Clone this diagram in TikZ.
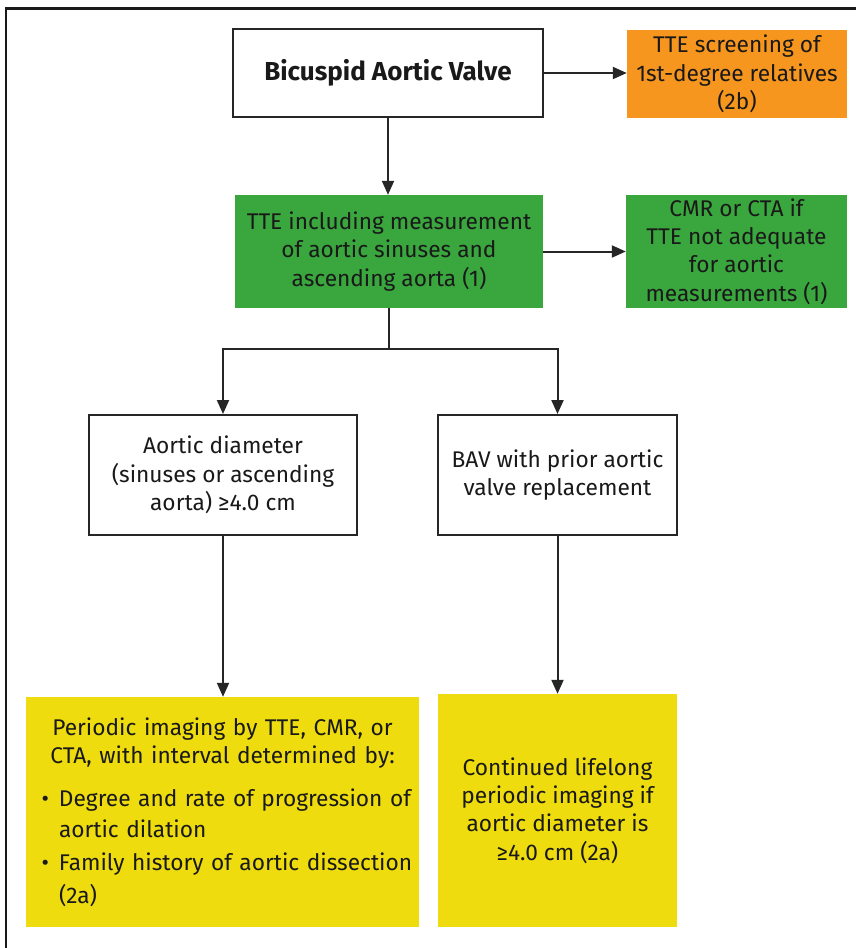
\documentclass[tikz,border=0pt]{standalone}
\usepackage{fontspec}
\setmainfont{Fira Sans}
\usetikzlibrary{arrows.meta}
\definecolor{borange}{HTML}{F7961E}
\definecolor{bgreen}{HTML}{3AA63E}
\definecolor{byellow}{HTML}{EEDC0F}
\begin{document}
\begin{tikzpicture}[x=1pt,y=-1pt,
  txt/.style={align=center, inner sep=0pt, font=\fontsize{22.7}{28.3}\selectfont, text=black!90},
  wbox/.style={txt, draw=black!85, line width=2pt, fill=white},
  obox/.style={txt, fill=borange},
  gbox/.style={txt, fill=bgreen},
  ybox/.style={txt, fill=byellow},
  arr/.style={line width=2pt, draw=black!85, -{Triangle[length=14pt,width=12pt]}},
  conn/.style={line width=2pt, draw=black!85}]
\useasboundingbox (0,0) rectangle (856,948);
\fill[white] (0,0) rectangle (856,948);
\draw[line width=2.5pt, black!90] (6,948) -- (6,8.5) -- (856,8.5);

\node[wbox, minimum width=310pt, minimum height=88pt] (bav) at (388,73)
  {\fontsize{26}{30}\selectfont\bfseries Bicuspid Aortic Valve};
\node[obox, minimum width=220pt, minimum height=88pt] (scr) at (737,74)
  {TTE screening of\\1st-degree relatives\\(2b)};
\node[gbox, minimum width=308pt, minimum height=113pt] (tte) at (389,251.5)
  {TTE including measurement\\of aortic sinuses and\\ascending aorta (1)};
\node[gbox, minimum width=221pt, minimum height=113pt] (cmr) at (736.5,251.5)
  {CMR or CTA if\\TTE not adequate\\for aortic\\measurements (1)};
\node[wbox, minimum width=268pt, minimum height=120pt] (diam) at (223,475)
  {Aortic diameter\\(sinuses or ascending\\aorta) ≥4.0 cm};
\node[wbox, minimum width=239pt, minimum height=120pt] (prior) at (557.5,475)
  {BAV with prior aortic\\valve replacement};
\node[ybox, minimum width=393pt, minimum height=230pt, text width=380pt, align=left] (per) at (222.5,812)
  {{\centering Periodic imaging by TTE, CMR, or\\CTA, with interval determined by:\par}
   \vspace{12pt}
   {\leftskip=26.5pt\baselineskip=31pt\noindent\llap{\textbullet\hspace{10pt}}Degree and rate of progression of\\aortic dilation\par}
   {\leftskip=26.5pt\baselineskip=33pt\noindent\llap{\textbullet\hspace{10pt}}Family history of aortic dissection\\(2a)\par}};
\node[ybox, minimum width=239pt, minimum height=233pt] (life) at (557.5,810.5)
  {Continued lifelong\\periodic imaging if\\aortic diameter is\\≥4.0 cm (2a)};

\draw[arr] (bav) -- (scr.west |- bav.east);
\draw[arr] (bav.south) -- (bav.south |- tte.north);
\draw[arr] (tte) -- (cmr);
\draw[conn] (tte.south) -- ++(0,41) coordinate (j);
\draw[arr] (j) -| (diam.north);
\draw[arr] (j) -| (prior.north);
\draw[arr] (diam.south) -- (diam.south |- per.north);
\draw[arr] (prior.south) -- (life.north);
\end{tikzpicture}
\end{document}
